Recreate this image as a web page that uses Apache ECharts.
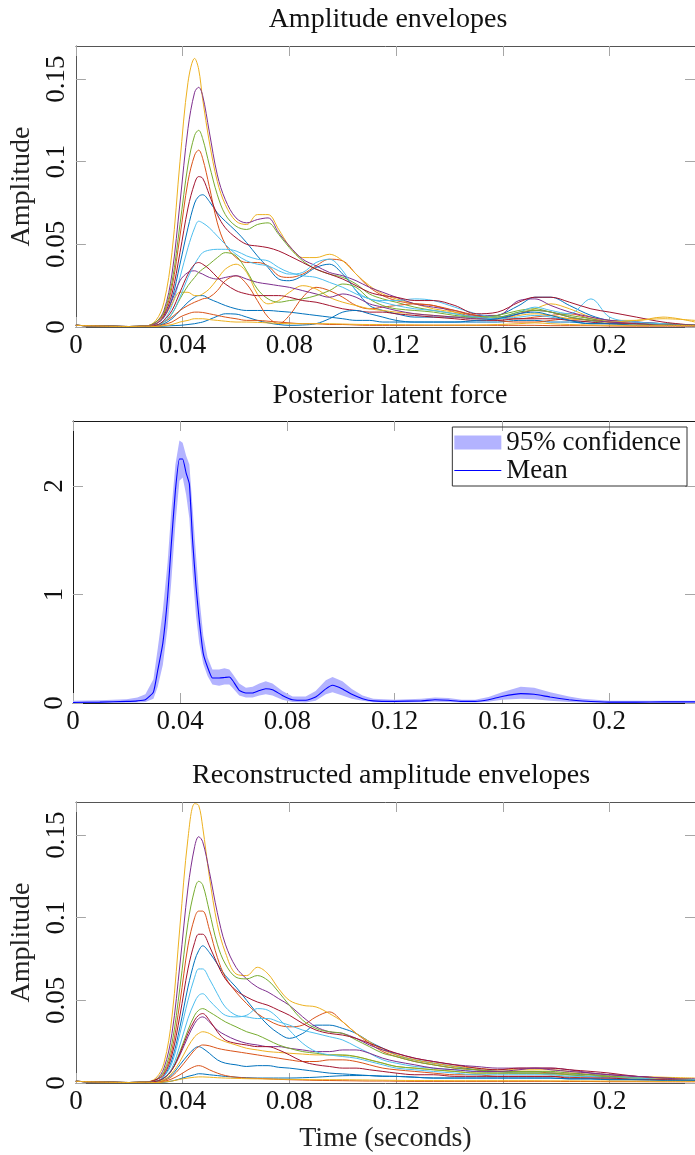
<!DOCTYPE html>
<html><head><meta charset="utf-8">
<script src="https://cdn.jsdelivr.net/npm/echarts@6/dist/echarts.min.js"></script>
<style>html,body{margin:0;padding:0;background:#fff}#c{width:695px;height:1155px}</style>
</head><body><div id="c"></div>
<script>
// ---------- shared axes / ticks ----------
const X_MAX = 0.232;
const xTicks = [0, 0.04, 0.08, 0.12, 0.16, 0.2];
const ampTicks = [0, 0.05, 0.1, 0.15];
const forceTicks = [0, 1, 2];
const AMP_MAX = 0.17;
const FORCE_MAX = 2.6;
const titles = ['Amplitude envelopes', 'Posterior latent force', 'Reconstructed amplitude envelopes'];
const colors = ['#0072BD', '#D95319', '#EDB120', '#7E2F8E', '#77AC30', '#4DBEEE', '#A2142F'];

// ---------- time grid for envelopes ----------
const time = [0, 0.02, 0.026,
  0.03, 0.033, 0.036, 0.039, 0.042,
  0.0445, 0.046, 0.0475, 0.05,
  0.053, 0.056, 0.06, 0.064, 0.068,
  0.072, 0.076, 0.08, 0.085, 0.09,
  0.095, 0.1, 0.105, 0.11, 0.115,
  0.12, 0.127, 0.134, 0.142, 0.15,
  0.158, 0.166, 0.172, 0.178, 0.185,
  0.193, 0.2, 0.21, 0.22, 0.232];

// ---------- panel 1: amplitude envelopes ----------
const envB1 = [0.001,0.0003,0.0005, 0.002,0.006,0.017,0.038,0.060, 0.075,0.079,0.080,0.076, 0.069,0.064,0.058,0.051,0.043, 0.036,0.029,0.028,0.031,0.036, 0.038,0.032,0.022,0.013,0.010, 0.008,0.006,0.006,0.006,0.006, 0.007,0.013,0.018,0.018,0.013, 0.007,0.004,0.003,0.002,0.001];
const envO1 = [0.001,0.0003,0.0005, 0.003,0.008,0.024,0.055,0.088, 0.104,0.107,0.102,0.085, 0.063,0.050,0.042,0.039,0.039, 0.037,0.031,0.030,0.032,0.037, 0.041,0.040,0.032,0.024,0.019, 0.016,0.014,0.013,0.009,0.006, 0.005,0.005,0.006,0.007,0.008, 0.005,0.003,0.002,0.001,0.001];
const envY1 = [0.001,0.0003,0.0005, 0.004,0.015,0.045,0.100,0.148, 0.1625,0.156,0.138,0.112, 0.088,0.074,0.064,0.062,0.068, 0.068,0.059,0.049,0.042,0.042, 0.044,0.040,0.032,0.025,0.020, 0.017,0.014,0.011,0.009,0.007, 0.006,0.008,0.011,0.014,0.011, 0.006,0.004,0.004,0.006,0.003];
const envP1 = [0.001,0.0003,0.0005, 0.003,0.010,0.032,0.075,0.120, 0.142,0.145,0.140,0.118, 0.092,0.077,0.066,0.063,0.065, 0.066,0.057,0.049,0.041,0.037, 0.033,0.031,0.028,0.024,0.021, 0.018,0.014,0.012,0.010,0.007, 0.007,0.016,0.017,0.013,0.009, 0.006,0.004,0.003,0.002,0.001];
const envG1 = [0.001,0.0003,0.0005, 0.003,0.009,0.027,0.062,0.098, 0.116,0.119,0.114,0.098, 0.080,0.068,0.061,0.059,0.062, 0.063,0.056,0.048,0.040,0.035, 0.032,0.030,0.026,0.020,0.017, 0.015,0.012,0.010,0.008,0.006, 0.007,0.010,0.011,0.009,0.007, 0.005,0.003,0.002,0.002,0.001];
const envL1 = [0.001,0.0003,0.0005, 0.001,0.004,0.013,0.030,0.048, 0.060,0.064,0.063,0.060, 0.055,0.050,0.044,0.040,0.038, 0.037,0.034,0.032,0.033,0.039, 0.041,0.034,0.022,0.017,0.016, 0.016,0.017,0.016,0.012,0.008, 0.006,0.009,0.012,0.010,0.008, 0.017,0.006,0.003,0.002,0.001];
const envR1 = [0.001,0.0003,0.0005, 0.002,0.007,0.020,0.045,0.072, 0.087,0.091,0.090,0.080, 0.068,0.060,0.054,0.050,0.049, 0.048,0.046,0.043,0.039,0.035, 0.032,0.029,0.025,0.021,0.019, 0.018,0.016,0.016,0.013,0.008, 0.009,0.015,0.018,0.018,0.015, 0.011,0.009,0.006,0.003,0.001];
const envB2 = [0.001,0.0003,0.0005, 0.001,0.002,0.005,0.010,0.015, 0.018,0.019,0.019,0.017, 0.015,0.013,0.011,0.010,0.010, 0.010,0.0095,0.009,0.008,0.007, 0.006,0.005,0.004,0.004,0.003, 0.003,0.003,0.003,0.003,0.003, 0.003,0.004,0.004,0.003,0.003, 0.002,0.002,0.001,0.001,0.001];
const envO2 = [0.001,0.0003,0.0005, 0.001,0.003,0.006,0.010,0.013, 0.015,0.016,0.017,0.018, 0.022,0.028,0.031,0.026,0.016, 0.006,0.002,0.007,0.018,0.024, 0.022,0.018,0.013,0.011,0.012, 0.013,0.014,0.013,0.010,0.007, 0.004,0.003,0.003,0.004,0.005, 0.004,0.003,0.002,0.001,0.001];
const envY2 = [0.001,0.0003,0.0005, 0.002,0.006,0.014,0.021,0.021, 0.019,0.019,0.020,0.023, 0.029,0.035,0.038,0.033,0.020, 0.014,0.016,0.021,0.025,0.023, 0.018,0.015,0.013,0.011,0.010, 0.009,0.008,0.007,0.006,0.005, 0.005,0.007,0.008,0.007,0.005, 0.004,0.003,0.004,0.005,0.004];
const envP2 = [0.001,0.0003,0.0005, 0.002,0.006,0.016,0.028,0.033, 0.034,0.033,0.032,0.030, 0.029,0.030,0.031,0.029,0.027, 0.026,0.025,0.024,0.022,0.020, 0.018,0.020,0.018,0.014,0.012, 0.010,0.008,0.007,0.006,0.005, 0.005,0.008,0.010,0.009,0.006, 0.004,0.003,0.002,0.001,0.001];
const envG2 = [0.001,0.0003,0.0005, 0.001,0.003,0.008,0.017,0.025, 0.030,0.033,0.035,0.038, 0.042,0.045,0.043,0.034,0.023, 0.017,0.015,0.016,0.017,0.019, 0.022,0.026,0.024,0.017,0.013, 0.011,0.010,0.009,0.007,0.006, 0.006,0.009,0.010,0.009,0.006, 0.004,0.002,0.002,0.001,0.001];
const envL2 = [0.001,0.0003,0.0005, 0.001,0.003,0.008,0.018,0.030, 0.038,0.042,0.045,0.0465, 0.047,0.047,0.046,0.043,0.041, 0.040,0.036,0.033,0.031,0.030, 0.027,0.024,0.020,0.017,0.015, 0.013,0.011,0.010,0.008,0.006, 0.005,0.006,0.007,0.006,0.004, 0.003,0.002,0.002,0.001,0.001];
const envR2 = [0.001,0.0003,0.0005, 0.001,0.004,0.010,0.021,0.032, 0.038,0.039,0.038,0.035, 0.030,0.026,0.022,0.020,0.019, 0.019,0.019,0.018,0.016,0.015, 0.013,0.011,0.010,0.009,0.009, 0.008,0.007,0.006,0.005,0.004, 0.004,0.005,0.005,0.005,0.004, 0.003,0.002,0.002,0.001,0.001];
const envB3 = [0.001,0.0003,0.0005, 0.0002,0.0005,0.0008,0.001,0.0015, 0.002,0.0025,0.003,0.0045, 0.0065,0.008,0.0078,0.006,0.004, 0.0025,0.0015,0.001,0.0012,0.002, 0.005,0.009,0.010,0.008,0.006, 0.004,0.003,0.003,0.003,0.004, 0.005,0.008,0.009,0.007,0.004, 0.002,0.002,0.001,0.001,0.0005];
const envO3 = [0.001,0.0003,0.0005, 0.0005,0.0015,0.003,0.006,0.008, 0.009,0.009,0.0088,0.008, 0.007,0.006,0.005,0.004,0.004, 0.0035,0.003,0.0025,0.002,0.002, 0.0015,0.0015,0.0012,0.001,0.001, 0.001,0.001,0.001,0.001,0.001, 0.001,0.001,0.001,0.0008,0.0008, 0.0008,0.0006,0.0005,0.0005,0.0005];
const envY3 = [0.001,0.0003,0.0005, 0.0003,0.0008,0.0015,0.003,0.004, 0.005,0.005,0.005,0.0045, 0.004,0.0035,0.003,0.003,0.0028, 0.0025,0.0022,0.002,0.002,0.002, 0.002,0.0018,0.0016,0.0015,0.0015, 0.0014,0.0013,0.0012,0.0012,0.0012, 0.0015,0.002,0.0025,0.002,0.0015, 0.0012,0.001,0.001,0.001,0.0008];

// ---------- panel 3: reconstructed envelopes ----------
const recB1 = [0.001,0.0003,0.0005, 0.001,0.004,0.014,0.034,0.058, 0.074,0.080,0.083,0.079, 0.072,0.065,0.058,0.050,0.042, 0.035,0.030,0.027,0.030,0.035, 0.035,0.033,0.030,0.025,0.021, 0.017,0.014,0.012,0.010,0.008, 0.007,0.006,0.006,0.006,0.005, 0.005,0.004,0.003,0.002,0.002];
const recO1 = [0.001,0.0003,0.0005, 0.002,0.006,0.020,0.049,0.083, 0.100,0.104,0.104,0.093, 0.076,0.064,0.055,0.048,0.042, 0.038,0.035,0.034,0.035,0.040, 0.043,0.037,0.030,0.024,0.019, 0.016,0.013,0.011,0.009,0.008, 0.007,0.007,0.007,0.006,0.006, 0.005,0.004,0.003,0.002,0.002];
const recY1 = [0.001,0.0003,0.0005, 0.003,0.012,0.040,0.095,0.148, 0.169,0.168,0.155,0.125, 0.096,0.079,0.066,0.065,0.070, 0.066,0.057,0.050,0.047,0.046, 0.042,0.037,0.030,0.025,0.020, 0.017,0.014,0.012,0.010,0.009, 0.008,0.008,0.008,0.008,0.007, 0.006,0.005,0.004,0.0035,0.003];
const recP1 = [0.001,0.0003,0.0005, 0.002,0.009,0.030,0.072,0.118, 0.143,0.149,0.146,0.128, 0.103,0.084,0.070,0.063,0.058, 0.055,0.051,0.047,0.040,0.034, 0.031,0.030,0.027,0.023,0.020, 0.018,0.015,0.013,0.011,0.010, 0.009,0.009,0.009,0.009,0.008, 0.006,0.005,0.004,0.003,0.0025];
const recG1 = [0.001,0.0003,0.0005, 0.002,0.007,0.024,0.058,0.097, 0.117,0.122,0.120,0.104, 0.084,0.072,0.064,0.063,0.065, 0.062,0.055,0.047,0.038,0.033, 0.031,0.030,0.026,0.022,0.018, 0.016,0.013,0.011,0.009,0.008, 0.007,0.007,0.007,0.007,0.006, 0.005,0.004,0.003,0.003,0.002];
const recL1 = [0.001,0.0003,0.0005, 0.001,0.004,0.012,0.030,0.050, 0.064,0.069,0.069,0.063, 0.054,0.046,0.041,0.040,0.039, 0.039,0.037,0.035,0.032,0.030, 0.028,0.026,0.022,0.018,0.014, 0.012,0.010,0.009,0.008,0.007, 0.006,0.006,0.006,0.005,0.005, 0.004,0.004,0.003,0.002,0.002];
const recR1 = [0.001,0.0003,0.0005, 0.002,0.005,0.017,0.041,0.069, 0.085,0.090,0.090,0.083, 0.072,0.063,0.056,0.052,0.049, 0.047,0.044,0.041,0.036,0.032, 0.030,0.029,0.027,0.024,0.021, 0.018,0.015,0.013,0.011,0.009, 0.008,0.009,0.009,0.009,0.008, 0.007,0.006,0.004,0.003,0.002];
const recB2 = [0.001,0.0003,0.0005, 0.0005,0.002,0.005,0.011,0.017, 0.021,0.022,0.021,0.018, 0.014,0.012,0.011,0.010,0.0105, 0.0105,0.0095,0.009,0.008,0.007, 0.006,0.0055,0.005,0.0045,0.004, 0.004,0.0035,0.003,0.003,0.003, 0.003,0.003,0.003,0.003,0.0025, 0.0025,0.002,0.002,0.002,0.0015];
const recO2 = [0.001,0.0003,0.0005, 0.0005,0.0015,0.004,0.009,0.015, 0.020,0.022,0.023,0.0225, 0.021,0.020,0.019,0.018,0.017, 0.016,0.015,0.014,0.013,0.013, 0.014,0.014,0.013,0.011,0.009, 0.008,0.007,0.006,0.005,0.005, 0.004,0.004,0.004,0.004,0.0035, 0.003,0.003,0.0025,0.002,0.002];
const recY2 = [0.001,0.0003,0.0005, 0.001,0.002,0.006,0.013,0.022, 0.028,0.030,0.031,0.030, 0.027,0.025,0.023,0.021,0.020, 0.019,0.0185,0.018,0.0175,0.017, 0.017,0.0167,0.016,0.014,0.012, 0.010,0.009,0.008,0.007,0.006, 0.006,0.006,0.006,0.005,0.005, 0.004,0.004,0.003,0.003,0.002];
const recP2 = [0.001,0.0003,0.0005, 0.001,0.003,0.008,0.017,0.028, 0.036,0.039,0.040,0.037, 0.032,0.029,0.026,0.024,0.023, 0.022,0.022,0.021,0.020,0.019, 0.019,0.020,0.020,0.018,0.015, 0.013,0.011,0.009,0.008,0.007, 0.007,0.008,0.009,0.008,0.007, 0.006,0.005,0.004,0.003,0.002];
const recG2 = [0.001,0.0003,0.0005, 0.001,0.003,0.008,0.019,0.032, 0.041,0.044,0.045,0.043, 0.040,0.037,0.034,0.031,0.029, 0.026,0.023,0.021,0.019,0.018, 0.017,0.017,0.016,0.014,0.012, 0.010,0.009,0.008,0.007,0.006, 0.006,0.006,0.006,0.006,0.005, 0.004,0.004,0.003,0.002,0.002];
const recL2 = [0.001,0.0003,0.0005, 0.001,0.003,0.009,0.023,0.039, 0.049,0.053,0.054,0.050, 0.045,0.041,0.040,0.041,0.045, 0.044,0.039,0.032,0.024,0.019, 0.017,0.016,0.015,0.013,0.011, 0.009,0.008,0.007,0.006,0.005, 0.005,0.005,0.005,0.005,0.004, 0.004,0.003,0.003,0.002,0.002];
const recR2 = [0.001,0.0003,0.0005, 0.001,0.003,0.008,0.018,0.030, 0.038,0.041,0.042,0.038, 0.031,0.026,0.024,0.023,0.022, 0.022,0.020,0.017,0.013,0.011, 0.010,0.009,0.009,0.008,0.007, 0.006,0.005,0.005,0.004,0.004, 0.004,0.004,0.004,0.004,0.003, 0.003,0.003,0.002,0.002,0.0015];
const recB3 = [0.001,0.0003,0.0005, 0.0002,0.0005,0.0012,0.0025,0.004, 0.005,0.0056,0.0055,0.005, 0.0045,0.004,0.0035,0.0032,0.003, 0.003,0.003,0.003,0.0032,0.0035, 0.004,0.0044,0.0045,0.0045,0.0042, 0.004,0.0035,0.003,0.003,0.003, 0.003,0.003,0.003,0.003,0.0025, 0.0025,0.002,0.002,0.0015,0.0015];
const recO3 = [0.001,0.0003,0.0005, 0.0003,0.001,0.0025,0.005,0.008, 0.010,0.0105,0.010,0.008, 0.006,0.0045,0.0035,0.003,0.0028, 0.0025,0.0022,0.002,0.0018,0.0016, 0.0015,0.0014,0.0013,0.0012,0.0012, 0.0011,0.001,0.001,0.001,0.001, 0.001,0.001,0.001,0.001,0.0009, 0.0009,0.0008,0.0008,0.0007,0.0007];
const recY3 = [0.001,0.0003,0.0005, 0.0002,0.0006,0.0012,0.0022,0.003, 0.0035,0.0037,0.0037,0.0035, 0.0032,0.003,0.0028,0.0026,0.0025, 0.0024,0.0023,0.0022,0.0021,0.002, 0.002,0.002,0.0019,0.0018,0.0017, 0.0016,0.0015,0.0015,0.0014,0.0014, 0.0014,0.0014,0.0014,0.0013,0.0013, 0.0012,0.0012,0.0011,0.001,0.001];

// ---------- panel 2: posterior latent force ----------
const forceTime = [0, 0.01, 0.02, 0.024, 0.027, 0.03, 0.0316, 0.0335, 0.0353, 0.0366,
  0.0382, 0.0397, 0.0409, 0.0422, 0.0434, 0.0446, 0.0459, 0.0471, 0.0486, 0.0502,
  0.052, 0.0545, 0.0565, 0.0583, 0.0595, 0.062, 0.0645, 0.067, 0.0695, 0.0719,
  0.0744, 0.0781, 0.0819, 0.0868, 0.0905, 0.0943, 0.0968, 0.1005, 0.104, 0.108,
  0.112, 0.12, 0.13, 0.135, 0.14, 0.145, 0.15, 0.155, 0.16, 0.167,
  0.172, 0.178, 0.185, 0.19, 0.2, 0.21, 0.22, 0.232];
const forceMean = [0.005, 0.008, 0.015, 0.02, 0.03, 0.1, 0.30, 0.55, 0.98, 1.44,
  1.96, 2.25, 2.25, 2.12, 2.02, 1.50, 1.07, 0.76, 0.455, 0.33,
  0.23, 0.23, 0.235, 0.24, 0.21, 0.117, 0.092, 0.092, 0.115, 0.132,
  0.123, 0.07, 0.03, 0.025, 0.055, 0.13, 0.163, 0.13, 0.08, 0.04,
  0.02, 0.015, 0.02, 0.03, 0.025, 0.015, 0.015, 0.03, 0.06, 0.086,
  0.08, 0.055, 0.03, 0.018, 0.008, 0.008, 0.01, 0.01];
const forceUpper = [0.02, 0.025, 0.035, 0.05, 0.08, 0.22, 0.50, 0.85, 1.30, 1.75,
  2.20, 2.42, 2.40, 2.28, 2.20, 1.80, 1.35, 0.98, 0.62, 0.42,
  0.31, 0.31, 0.32, 0.31, 0.27, 0.18, 0.14, 0.15, 0.18, 0.20,
  0.18, 0.11, 0.06, 0.06, 0.11, 0.21, 0.24, 0.20, 0.13, 0.07,
  0.04, 0.03, 0.04, 0.05, 0.045, 0.03, 0.03, 0.055, 0.10, 0.15,
  0.14, 0.10, 0.06, 0.04, 0.02, 0.02, 0.02, 0.02];
const forceLower = [0.0, 0.0, 0.002, 0.005, 0.01, 0.04, 0.15, 0.35, 0.70, 1.10,
  1.65, 2.05, 2.08, 1.92, 1.70, 1.20, 0.80, 0.55, 0.36, 0.25,
  0.17, 0.16, 0.17, 0.17, 0.14, 0.07, 0.05, 0.05, 0.07, 0.08,
  0.07, 0.03, 0.01, 0.005, 0.02, 0.08, 0.10, 0.07, 0.04, 0.02,
  0.008, 0.005, 0.008, 0.012, 0.01, 0.005, 0.005, 0.012, 0.03, 0.04,
  0.035, 0.02, 0.01, 0.005, 0.0, 0.0, 0.002, 0.002];

const envelopes = [envB1, envO1, envY1, envP1, envG1, envL1, envR1, envB2, envO2, envY2, envP2, envG2, envL2, envR2, envB3, envO3, envY3];
const recon = [recB1, recO1, recY1, recP1, recG1, recL1, recR1, recB2, recO2, recY2, recP2, recG2, recL2, recR2, recB3, recO3, recY3];

// ---------- layout ----------
const FONT = "'Liberation Serif','DejaVu Serif',serif";
const TXT = '#111111';
const grids = [
  {left: 72, top: 46, width: 623, height: 281},
  {left: 73, top: 421, width: 623, height: 282},
  {left: 75, top: 802, width: 623, height: 281}
];
const frameCol = ['#555555', '#1a1a1a', '#555555'];
const tickCol = '#a6a6a6';

function xAxesFor(gi, name) {
  const line = {show: true, onZero: false, lineStyle: {color: frameCol[gi], width: 1}};
  const tick = {show: true, inside: true, length: 10, customValues: xTicks, lineStyle: {color: tickCol, width: 1}};
  return [
    {gridIndex: gi, type: 'value', position: 'bottom', min: 0, max: X_MAX, interval: 0.04,
      axisLine: line, axisTick: tick, splitLine: {show: false},
      axisLabel: {show: true, customValues: xTicks, fontSize: 27, fontFamily: FONT, color: TXT, margin: 5},
      name: name || '', nameLocation: 'middle', nameGap: 42,
      nameTextStyle: {fontSize: 28, fontFamily: FONT, color: '#222'}},
    {gridIndex: gi, type: 'value', position: 'top', min: 0, max: X_MAX, interval: 0.04,
      axisLine: line, axisTick: tick, splitLine: {show: false}, axisLabel: {show: false}}
  ];
}
function yAxesFor(gi, max, interval, ticks, name) {
  const line = {show: true, onZero: false, lineStyle: {color: frameCol[gi], width: 1}};
  const tick = {show: true, inside: true, length: 10, customValues: ticks, lineStyle: {color: tickCol, width: 1}};
  return [
    {gridIndex: gi, type: 'value', position: 'left', min: 0, max: max, interval: interval,
      axisLine: line, axisTick: tick, splitLine: {show: false},
      axisLabel: {show: true, customValues: ticks, rotate: 90, fontSize: 27, fontFamily: FONT, color: TXT, margin: 5},
      name: name || '', nameLocation: 'middle', nameGap: 36,
      nameTextStyle: {fontSize: 28, fontFamily: FONT, color: '#222'}},
    {gridIndex: gi, type: 'value', position: 'right', min: 0, max: max, interval: interval,
      axisLine: line, axisTick: tick, splitLine: {show: false}, axisLabel: {show: false}}
  ];
}

const series = [];
function addEnvelopes(list, axisIdx) {
  list.forEach((arr, k) => {
    series.push({
      type: 'line', xAxisIndex: axisIdx, yAxisIndex: axisIdx,
      data: time.map((t, i) => [t, arr[i]]),
      showSymbol: false, symbol: 'none', smooth: 0.35, clip: true,
      lineStyle: {color: colors[k % colors.length], width: 1},
      itemStyle: {color: colors[k % colors.length]},
      silent: true, z: 2
    });
  });
}
addEnvelopes(envelopes, 0);
addEnvelopes(recon, 4);

// confidence band (polygon drawn through the axis scales)
series.push({
  type: 'custom', name: '95% confidence', xAxisIndex: 2, yAxisIndex: 2,
  data: forceTime.map((t, i) => [t, forceLower[i], forceUpper[i]]),
  encode: {x: 0, y: [1, 2]},
  clip: true, z: 1, silent: true,
  itemStyle: {color: '#b3b3ff'},
  renderItem: function (params, api) {
    if (params.dataIndex !== 0) return null;
    const pts = [];
    for (let i = 0; i < forceTime.length; i++) pts.push(api.coord([forceTime[i], forceUpper[i]]));
    for (let i = forceTime.length - 1; i >= 0; i--) pts.push(api.coord([forceTime[i], forceLower[i]]));
    return {type: 'polygon', shape: {points: pts}, style: {fill: '#b3b3ff', stroke: null}};
  }
});
series.push({
  type: 'line', name: 'Mean', xAxisIndex: 2, yAxisIndex: 2,
  data: forceTime.map((t, i) => [t, forceMean[i]]),
  showSymbol: false, symbol: 'none', smooth: 0.15, clip: true,
  lineStyle: {color: '#0000ff', width: 1.1}, itemStyle: {color: '#0000ff'},
  silent: true, z: 3
});

const option = {
  animation: false,
  backgroundColor: '#ffffff',
  title: [
    {text: titles[0], left: 383, top: 1, textAlign: 'center', textStyle: {fontSize: 28, fontWeight: 'normal', fontFamily: FONT, color: TXT}},
    {text: titles[1], left: 385, top: 377, textAlign: 'center', textStyle: {fontSize: 28, fontWeight: 'normal', fontFamily: FONT, color: TXT}},
    {text: titles[2], left: 386, top: 757, textAlign: 'center', textStyle: {fontSize: 28, fontWeight: 'normal', fontFamily: FONT, color: TXT}}
  ],
  legend: {
    data: [
      {name: '95% confidence', icon: 'rect', itemStyle: {color: '#b3b3ff'}},
      {name: 'Mean', icon: 'path://M0 0H47V0.04H0Z M0 6.45H47V7.55H0Z M0 13.96H47V14H0Z', itemStyle: {color: '#0000ff'}}
    ],
    orient: 'vertical', right: 8, top: 427,
    itemWidth: 47, itemHeight: 14, itemGap: 1,
    padding: [2, 6, 2, 2],
    borderColor: '#333', borderWidth: 1, borderRadius: 0,
    selectedMode: false,
    textStyle: {fontSize: 27, fontFamily: FONT, color: TXT, lineHeight: 26}
  },
  grid: grids,
  xAxis: [].concat(xAxesFor(0), xAxesFor(1), xAxesFor(2, 'Time (seconds)')),
  yAxis: [].concat(
    yAxesFor(0, AMP_MAX, 0.05, ampTicks, 'Amplitude'),
    yAxesFor(1, FORCE_MAX, 1, forceTicks, ''),
    yAxesFor(2, AMP_MAX, 0.05, ampTicks, 'Amplitude')),
  series: series
};

const chart = echarts.init(document.getElementById('c'), null, {renderer: 'canvas'});
chart.setOption(option);
</script>
</body></html>
